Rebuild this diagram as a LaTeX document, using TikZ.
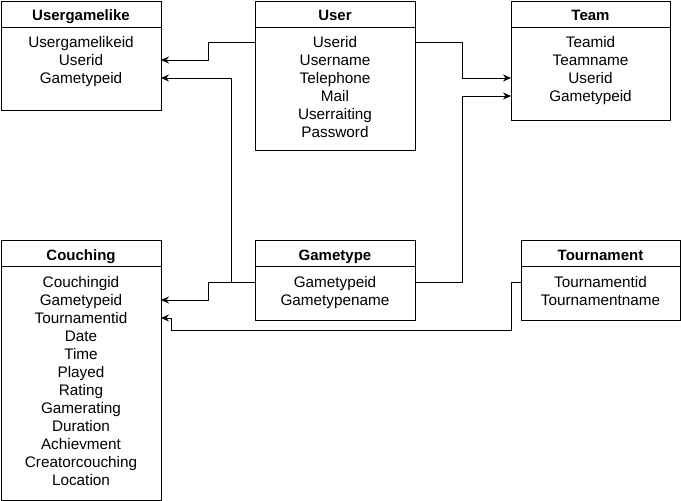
\documentclass[tikz,border=0pt]{standalone}
\usepackage{fontspec}
\setmainfont{Liberation Sans}
\usetikzlibrary{arrows.meta,calc}
\begin{document}
\begin{tikzpicture}[x=1pt,y=-1pt,
 ent/.style={draw,line width=1pt,anchor=north west,inner sep=0,outer sep=0},
 hdr/.style={line width=1pt},
 ttl/.style={font=\fontsize{15}{17}\selectfont\bfseries,inner sep=0,text height=10.8pt,text depth=0pt},
 row/.style={font=\fontsize{15.3}{17}\selectfont,inner sep=0,text height=10.8pt,text depth=0pt},
 conn/.style={draw,line width=1pt,-{Stealth[length=8pt,width=7pt]}}]
\useasboundingbox (0,0) rectangle (681,501);
% Usergamelike
\node[ent,minimum width=160pt,minimum height=109pt] (ug) at (1,1) {};
\draw[hdr] (1,27) -- (161,27);
\node[ttl] (ugt) at (81,15) {Usergamelike};
\node[row] (ug1) at (81,42) {Usergamelikeid};
\node[row] (ug2) at (81,60) {Userid};
\node[row] (ug3) at (81,78) {Gametypeid};
% User
\node[ent,minimum width=160pt,minimum height=149pt] (u) at (255,1) {};
\draw[hdr] (255,27) -- (415,27);
\node[ttl] (ut) at (335,15) {User};
\node[row] (u1) at (335,42) {Userid};
\node[row] (u2) at (335,60) {Username};
\node[row] (u3) at (335,78) {Telephone};
\node[row] (u4) at (335,96) {Mail};
\node[row] (u5) at (335,114) {Userraiting};
\node[row] (u6) at (335,132) {Password};
% Team
\node[ent,minimum width=159pt,minimum height=119pt] (tm) at (511,1) {};
\draw[hdr] (511,27) -- (670,27);
\node[ttl] (tmt) at (590.5,15) {Team};
\node[row] (tm1) at (590.5,42) {Teamid};
\node[row] (tm2) at (590.5,60) {Teamname};
\node[row] (tm3) at (590.5,78) {Userid};
\node[row] (tm4) at (590.5,96) {Gametypeid};
% Couching
\node[ent,minimum width=160pt,minimum height=260pt] (c) at (1,240) {};
\draw[hdr] (1,266) -- (161,266);
\node[ttl] (ct) at (81,255) {Couching};
\node[row] (c1) at (81,282) {Couchingid};
\node[row] (c2) at (81,300) {Gametypeid};
\node[row] (c3) at (81,318) {Tournamentid};
\node[row] (c4) at (81,336) {Date};
\node[row] (c5) at (81,354) {Time};
\node[row] (c6) at (81,372) {Played};
\node[row] (c7) at (81,390) {Rating};
\node[row] (c8) at (81,408) {Gamerating};
\node[row] (c9) at (81,426) {Duration};
\node[row] (c10) at (81,444) {Achievment};
\node[row] (c11) at (81,462) {Creatorcouching};
\node[row] (c12) at (81,480) {Location};
% Gametype
\node[ent,minimum width=160pt,minimum height=80pt] (g) at (255,240) {};
\draw[hdr] (255,266) -- (415,266);
\node[ttl] (gt) at (335,255) {Gametype};
\node[row] (g1) at (335,282) {Gametypeid};
\node[row] (g2) at (335,300) {Gametypename};
% Tournament
\node[ent,minimum width=159pt,minimum height=80pt] (t) at (521,240) {};
\draw[hdr] (521,266) -- (680,266);
\node[ttl] (tt) at (600.5,255) {Tournament};
\node[row] (t1) at (600.5,282) {Tournamentid};
\node[row] (t2) at (600.5,300) {Tournamentname};
% connectors
\coordinate (tbend) at (171,330);
\draw[conn] (u1 -| u.west) -- ++(-47,0) |- (ug2 -| ug.east);
\draw[conn] (g1 -| g.west) -- ++(-24,0) |- (ug3 -| ug.east);
\draw[conn] (g1 -| g.west) -- ++(-47,0) |- (c2 -| c.east);
\draw[conn] (t1 -| t.west) -- ++(-10,0) |- (tbend) |- (c3 -| c.east);
\draw[conn] (u1 -| u.east) -- ++(47,0) |- (tm3 -| tm.west);
\draw[conn] (g1 -| g.east) -- ++(47,0) |- (tm4 -| tm.west);
\end{tikzpicture}
\end{document}
